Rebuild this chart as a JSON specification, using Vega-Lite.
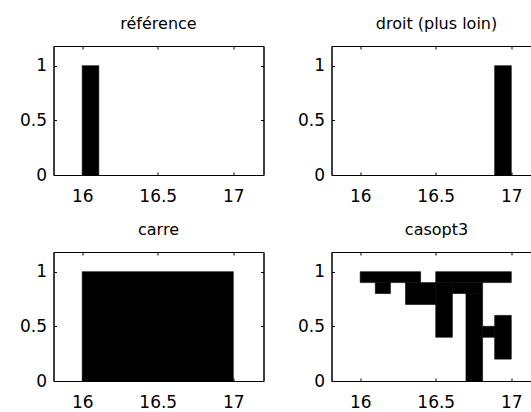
{
  "$schema": "https://vega.github.io/schema/vega-lite/v6.json",
  "background": "white",
  "padding": {"left": 18.5, "top": 15, "right": 0, "bottom": 0},
  "bounds": "flush",
  "columns": 2,
  "spacing": {"row": 77, "column": 68},
  "datasets": {
    "ref": [{"x0": 16.0, "x1": 16.11, "y0": 0, "y1": 1}],
    "droit": [{"x0": 16.89, "x1": 17.0, "y0": 0, "y1": 1}],
    "carre": [{"x0": 16.0, "x1": 17.0, "y0": 0, "y1": 1}],
    "casopt3": [
      {"x0": 16.0, "x1": 16.4, "y0": 0.9, "y1": 1.0},
      {"x0": 16.1, "x1": 16.2, "y0": 0.8, "y1": 0.9},
      {"x0": 16.3, "x1": 16.5, "y0": 0.7, "y1": 0.9},
      {"x0": 16.5, "x1": 17.0, "y0": 0.9, "y1": 1.0},
      {"x0": 16.5, "x1": 16.61, "y0": 0.4, "y1": 0.9},
      {"x0": 16.61, "x1": 16.81, "y0": 0.8, "y1": 0.9},
      {"x0": 16.7, "x1": 16.81, "y0": 0.0, "y1": 0.8},
      {"x0": 16.81, "x1": 16.89, "y0": 0.4, "y1": 0.5},
      {"x0": 16.89, "x1": 17.0, "y0": 0.2, "y1": 0.6}
    ]
  },
  "config": {
    "view": {"stroke": "black", "strokeWidth": 1},
    "rect": {"color": "black", "stroke": "black", "strokeWidth": 0.6},
    "axis": {
      "grid": false,
      "domainColor": "black",
      "tickColor": "black",
      "tickSize": -3,
      "labelColor": "black",
      "labelFont": "DejaVu Sans",
      "labelFontSize": 17,
      "title": null
    },
    "title": {"font": "DejaVu Sans", "fontSize": 16, "fontWeight": "normal", "color": "black", "anchor": "middle", "offset": 14}
  },
  "concat": [
    {
      "title": "référence",
      "width": 210, "height": 129,
      "data": {"name": "ref"},
      "layer": [
        {
          "mark": {"type": "rect"},
          "encoding": {
            "x": {"field": "x0", "type": "quantitative", "scale": {"domain": [15.81, 17.2], "nice": false, "zero": false}, "axis": {"orient": "bottom", "values": [16, 16.5, 17], "format": "~g", "labelPadding": 16}},
            "x2": {"field": "x1"},
            "y": {"field": "y0", "type": "quantitative", "scale": {"domain": [0, 1.18], "nice": false}, "axis": {"orient": "left", "values": [0, 0.5, 1], "format": "~g", "labelPadding": 10}},
            "y2": {"field": "y1"}
          }
        },
        {
          "mark": {"type": "rect", "opacity": 0},
          "encoding": {
            "x": {"field": "x0", "type": "quantitative", "axis": {"orient": "top", "values": [16, 16.5, 17], "labels": false}},
            "x2": {"field": "x1"},
            "y": {"field": "y0", "type": "quantitative", "axis": {"orient": "right", "values": [0, 0.5, 1], "labels": false}},
            "y2": {"field": "y1"}
          }
        }
      ],
      "resolve": {"axis": {"x": "independent", "y": "independent"}}
    },
    {
      "title": "droit (plus loin)",
      "width": 210, "height": 129,
      "data": {"name": "droit"},
      "layer": [
        {
          "mark": {"type": "rect"},
          "encoding": {
            "x": {"field": "x0", "type": "quantitative", "scale": {"domain": [15.81, 17.2], "nice": false, "zero": false}, "axis": {"orient": "bottom", "values": [16, 16.5, 17], "format": "~g", "labelPadding": 16}},
            "x2": {"field": "x1"},
            "y": {"field": "y0", "type": "quantitative", "scale": {"domain": [0, 1.18], "nice": false}, "axis": {"orient": "left", "values": [0, 0.5, 1], "format": "~g", "labelPadding": 10}},
            "y2": {"field": "y1"}
          }
        },
        {
          "mark": {"type": "rect", "opacity": 0},
          "encoding": {
            "x": {"field": "x0", "type": "quantitative", "axis": {"orient": "top", "values": [16, 16.5, 17], "labels": false}},
            "x2": {"field": "x1"},
            "y": {"field": "y0", "type": "quantitative", "axis": {"orient": "right", "values": [0, 0.5, 1], "labels": false}},
            "y2": {"field": "y1"}
          }
        }
      ],
      "resolve": {"axis": {"x": "independent", "y": "independent"}}
    },
    {
      "title": "carre",
      "width": 210, "height": 129,
      "data": {"name": "carre"},
      "layer": [
        {
          "mark": {"type": "rect"},
          "encoding": {
            "x": {"field": "x0", "type": "quantitative", "scale": {"domain": [15.81, 17.2], "nice": false, "zero": false}, "axis": {"orient": "bottom", "values": [16, 16.5, 17], "format": "~g", "labelPadding": 16}},
            "x2": {"field": "x1"},
            "y": {"field": "y0", "type": "quantitative", "scale": {"domain": [0, 1.18], "nice": false}, "axis": {"orient": "left", "values": [0, 0.5, 1], "format": "~g", "labelPadding": 10}},
            "y2": {"field": "y1"}
          }
        },
        {
          "mark": {"type": "rect", "opacity": 0},
          "encoding": {
            "x": {"field": "x0", "type": "quantitative", "axis": {"orient": "top", "values": [16, 16.5, 17], "labels": false}},
            "x2": {"field": "x1"},
            "y": {"field": "y0", "type": "quantitative", "axis": {"orient": "right", "values": [0, 0.5, 1], "labels": false}},
            "y2": {"field": "y1"}
          }
        }
      ],
      "resolve": {"axis": {"x": "independent", "y": "independent"}}
    },
    {
      "title": "casopt3",
      "width": 210, "height": 129,
      "data": {"name": "casopt3"},
      "layer": [
        {
          "mark": {"type": "rect"},
          "encoding": {
            "x": {"field": "x0", "type": "quantitative", "scale": {"domain": [15.81, 17.2], "nice": false, "zero": false}, "axis": {"orient": "bottom", "values": [16, 16.5, 17], "format": "~g", "labelPadding": 16}},
            "x2": {"field": "x1"},
            "y": {"field": "y0", "type": "quantitative", "scale": {"domain": [0, 1.18], "nice": false}, "axis": {"orient": "left", "values": [0, 0.5, 1], "format": "~g", "labelPadding": 10}},
            "y2": {"field": "y1"}
          }
        },
        {
          "mark": {"type": "rect", "opacity": 0},
          "encoding": {
            "x": {"field": "x0", "type": "quantitative", "axis": {"orient": "top", "values": [16, 16.5, 17], "labels": false}},
            "x2": {"field": "x1"},
            "y": {"field": "y0", "type": "quantitative", "axis": {"orient": "right", "values": [0, 0.5, 1], "labels": false}},
            "y2": {"field": "y1"}
          }
        }
      ],
      "resolve": {"axis": {"x": "independent", "y": "independent"}}
    }
  ]
}
